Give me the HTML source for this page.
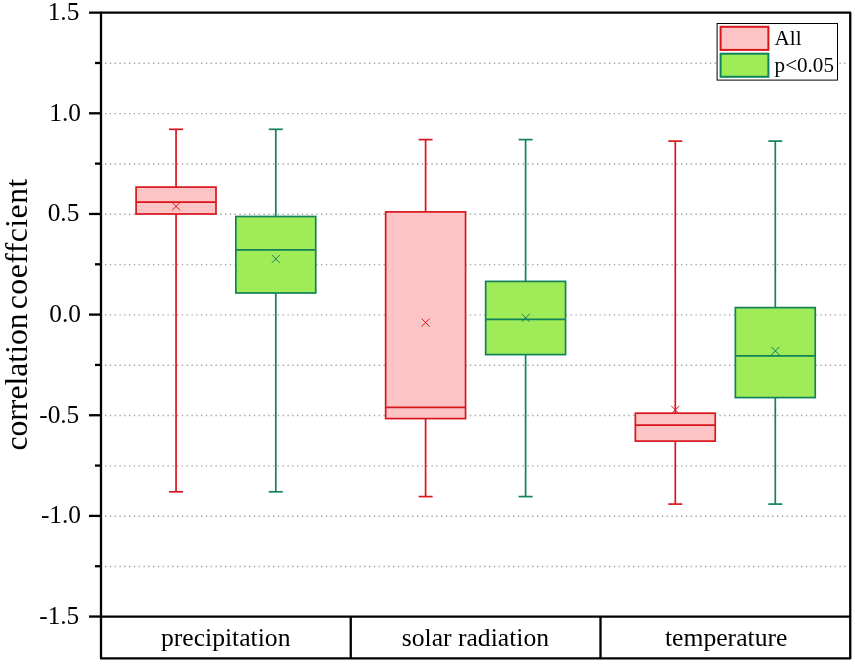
<!DOCTYPE html>
<html lang="en"><head><meta charset="utf-8"><title>correlation coefficient box plot</title>
<style>html,body{margin:0;padding:0;background:#fff}svg{display:block;will-change:transform}text{font-family:"Liberation Serif","Times New Roman",serif;fill:#000}</style>
</head><body>
<svg width="855" height="664" viewBox="0 0 855 664">
<rect x="0" y="0" width="855" height="664" fill="#fff"/>
<g stroke="#a6a6a6" stroke-width="1.4" stroke-dasharray="1.4 3.4" fill="none">
<line x1="105.0" y1="63.28" x2="849.25" y2="63.28"/>
<line x1="105.0" y1="113.60" x2="849.25" y2="113.60"/>
<line x1="105.0" y1="163.93" x2="849.25" y2="163.93"/>
<line x1="105.0" y1="214.25" x2="849.25" y2="214.25"/>
<line x1="105.0" y1="264.58" x2="849.25" y2="264.58"/>
<line x1="105.0" y1="314.90" x2="849.25" y2="314.90"/>
<line x1="105.0" y1="365.23" x2="849.25" y2="365.23"/>
<line x1="105.0" y1="415.55" x2="849.25" y2="415.55"/>
<line x1="105.0" y1="465.88" x2="849.25" y2="465.88"/>
<line x1="105.0" y1="516.20" x2="849.25" y2="516.20"/>
<line x1="105.0" y1="566.52" x2="849.25" y2="566.52"/>
</g>
<g stroke="#d8161c" stroke-width="1.7" fill="none">
<line x1="176.05" y1="129.3" x2="176.05" y2="491.8"/>
<line x1="169.05" y1="129.3" x2="183.05" y2="129.3"/>
<line x1="169.05" y1="491.8" x2="183.05" y2="491.8"/>
<rect x="136.10" y="187.1" width="79.90" height="26.90" fill="#fcc4c4"/>
<line x1="136.10" y1="202.1" x2="216.00" y2="202.1"/>
<path d="M172.05 202.4L180.05 210.4M172.05 210.4L180.05 202.4" stroke-width="1"/>
</g>
<g stroke="#11825a" stroke-width="1.7" fill="none">
<line x1="275.8" y1="129.3" x2="275.8" y2="491.8"/>
<line x1="268.8" y1="129.3" x2="282.8" y2="129.3"/>
<line x1="268.8" y1="491.8" x2="282.8" y2="491.8"/>
<rect x="235.85" y="216.5" width="79.90" height="76.50" fill="#9fec58"/>
<line x1="235.85" y1="249.9" x2="315.75" y2="249.9"/>
<path d="M271.8 254.89999999999998L279.8 262.9M271.8 262.9L279.8 254.89999999999998" stroke-width="1"/>
</g>
<g stroke="#d8161c" stroke-width="1.7" fill="none">
<line x1="425.6" y1="139.6" x2="425.6" y2="496.6"/>
<line x1="418.6" y1="139.6" x2="432.6" y2="139.6"/>
<line x1="418.6" y1="496.6" x2="432.6" y2="496.6"/>
<rect x="385.65" y="211.9" width="79.90" height="206.70" fill="#fcc4c4"/>
<line x1="385.65" y1="407.4" x2="465.55" y2="407.4"/>
<path d="M421.6 318.6L429.6 326.6M421.6 326.6L429.6 318.6" stroke-width="1"/>
</g>
<g stroke="#11825a" stroke-width="1.7" fill="none">
<line x1="525.6" y1="139.6" x2="525.6" y2="496.6"/>
<line x1="518.6" y1="139.6" x2="532.6" y2="139.6"/>
<line x1="518.6" y1="496.6" x2="532.6" y2="496.6"/>
<rect x="485.65" y="281.4" width="79.90" height="73.20" fill="#9fec58"/>
<line x1="485.65" y1="319.4" x2="565.55" y2="319.4"/>
<path d="M521.6 313.9L529.6 321.9M521.6 321.9L529.6 313.9" stroke-width="1"/>
</g>
<g stroke="#d8161c" stroke-width="1.7" fill="none">
<line x1="675.3" y1="141.1" x2="675.3" y2="504.1"/>
<line x1="668.3" y1="141.1" x2="682.3" y2="141.1"/>
<line x1="668.3" y1="504.1" x2="682.3" y2="504.1"/>
<rect x="635.35" y="413.2" width="79.90" height="27.90" fill="#fcc4c4"/>
<line x1="635.35" y1="425.1" x2="715.25" y2="425.1"/>
<path d="M671.3 405.9L679.3 413.9M671.3 413.9L679.3 405.9" stroke-width="1"/>
</g>
<g stroke="#11825a" stroke-width="1.7" fill="none">
<line x1="775.3" y1="141.1" x2="775.3" y2="504.1"/>
<line x1="768.3" y1="141.1" x2="782.3" y2="141.1"/>
<line x1="768.3" y1="504.1" x2="782.3" y2="504.1"/>
<rect x="735.35" y="307.6" width="79.90" height="90.00" fill="#9fec58"/>
<line x1="735.35" y1="355.9" x2="815.25" y2="355.9"/>
<path d="M771.3 346.9L779.3 354.9M771.3 354.9L779.3 346.9" stroke-width="1"/>
</g>
<g stroke="#000" stroke-width="2.3" fill="none" stroke-linecap="butt" stroke-linejoin="round">
<path d="M101.0 12.7H850.25V658.4H101.0Z"/>
<line x1="101.0" y1="616.6" x2="850.25" y2="616.6"/>
<line x1="350.75" y1="616.6" x2="350.75" y2="658.4"/>
<line x1="600.5" y1="616.6" x2="600.5" y2="658.4"/>
<line x1="89.0" y1="12.65" x2="101.0" y2="12.65"/>
<line x1="95.0" y1="62.98" x2="101.0" y2="62.98"/>
<line x1="89.0" y1="113.30" x2="101.0" y2="113.30"/>
<line x1="95.0" y1="163.62" x2="101.0" y2="163.62"/>
<line x1="89.0" y1="213.95" x2="101.0" y2="213.95"/>
<line x1="95.0" y1="264.28" x2="101.0" y2="264.28"/>
<line x1="89.0" y1="314.60" x2="101.0" y2="314.60"/>
<line x1="95.0" y1="364.93" x2="101.0" y2="364.93"/>
<line x1="89.0" y1="415.25" x2="101.0" y2="415.25"/>
<line x1="95.0" y1="465.58" x2="101.0" y2="465.58"/>
<line x1="89.0" y1="515.90" x2="101.0" y2="515.90"/>
<line x1="95.0" y1="566.23" x2="101.0" y2="566.23"/>
<line x1="89.0" y1="616.55" x2="101.0" y2="616.55"/>
</g>
<g font-size="26" text-anchor="end">
<text transform="translate(79.3 20.05) scale(0.975 1)">1.5</text>
<text transform="translate(81.0 120.70) scale(0.975 1)">1.0</text>
<text transform="translate(79.3 221.35) scale(0.975 1)">0.5</text>
<text transform="translate(81.0 322.00) scale(0.975 1)">0.0</text>
<text transform="translate(79.3 422.65) scale(0.975 1)">-0.5</text>
<text transform="translate(81.0 523.30) scale(0.975 1)">-1.0</text>
<text transform="translate(79.3 623.95) scale(0.975 1)">-1.5</text>
</g>
<g font-size="25.65" text-anchor="middle">
<text x="225.7" y="645.5">precipitation</text>
<text x="475.4" y="645.5">solar radiation</text>
<text x="726.2" y="645.5">temperature</text>
</g>
<text font-size="31.7" transform="translate(27.4 0) rotate(-90)"><tspan x="-450.6">correlation </tspan><tspan x="-309.2" textLength="130.5">coeffcient</tspan></text>
<rect x="717.1" y="23.5" width="120.4" height="56.6" fill="#fff" stroke="#000" stroke-width="1"/>
<rect x="720.6" y="26.8" width="47.8" height="23.1" fill="#fcc4c4" stroke="#d8161c" stroke-width="2"/>
<rect x="720.6" y="53.7" width="47.8" height="23.1" fill="#9fec58" stroke="#11825a" stroke-width="2"/>
<g font-size="21.1">
<text x="774.6" y="44.8">All</text>
<text x="774.6" y="72.0">p&lt;0.05</text>
</g>
</svg>
</body></html>
